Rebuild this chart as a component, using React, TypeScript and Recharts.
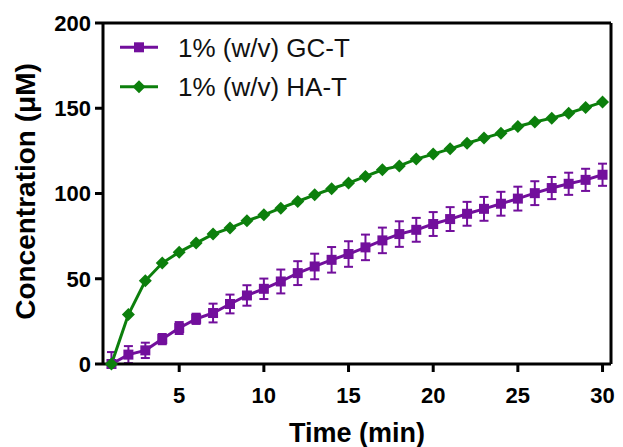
import React from 'react';
import { LineChart, Line, XAxis, YAxis, ErrorBar, ReferenceLine } from 'recharts';

const times = [1, 2, 3, 4, 5, 6, 7, 8, 9, 10, 11, 12, 13, 14, 15, 16, 17, 18, 19, 20, 21, 22, 23, 24, 25, 26, 27, 28, 29, 30];
const gcT = [0, 5.5, 8, 14.6, 21.1, 26.5, 29.9, 35.2, 40.2, 44.1, 48.4, 53.3, 57.2, 61.1, 64.5, 68.4, 72.5, 76.2, 78.7, 82.1, 85, 88.1, 91, 94, 97, 100.2, 103.2, 105.7, 108, 111];
const gcErr = [7, 5, 4.5, 3, 3.5, 3, 5.5, 5.5, 6, 6, 7, 7, 7.5, 7.5, 7.5, 7.5, 7.5, 7.5, 7, 7, 7, 7, 7, 7, 7, 7, 6.5, 6.5, 6.5, 6.5];
const haT = [0, 29, 48.8, 59.2, 65.6, 70.9, 76.2, 79.7, 84, 87.5, 91.4, 95.3, 99.2, 102.8, 106.1, 110, 113.9, 116.2, 120.2, 123.1, 126.2, 129.5, 132.5, 135.4, 139.3, 141.9, 144.2, 147.1, 150.4, 153.6];

const xTicks = [5, 10, 15, 20, 25, 30];
const yTicks = [0, 50, 100, 150, 200];
const seriesNames = ['1% (w/v) GC-T', '1% (w/v) HA-T'];
const xTitle = 'Time (min)';
const yTitle = 'Concentration (\u03bcM)';

const PURPLE = '#720f9c';
const GREEN = '#0c7f0c';
const FONT = "'Liberation Sans', Arial, sans-serif";

// error bars are hidden below the x axis in the original, so the lower arm stops at 0
const data = times.map((t, i) => ({
  t,
  gc: gcT[i],
  gcErr: [Math.min(gcErr[i], gcT[i]), gcErr[i]],
  ha: haT[i],
}));

const SquareDot = (props: any) => {
  const { cx, cy } = props;
  if (cx == null || cy == null) return null;
  return <rect key={`s-${cx}`} x={cx - 5} y={cy - 5} width={10} height={10} fill={PURPLE} />;
};

const DiamondDot = (props: any) => {
  const { cx, cy } = props;
  if (cx == null || cy == null) return null;
  return (
    <polygon
      key={`d-${cx}`}
      points={`${cx},${cy - 6.5} ${cx + 6.5},${cy} ${cx},${cy + 6.5} ${cx - 6.5},${cy}`}
      fill={GREEN}
    />
  );
};

const LegendOverlay = () => (
  <svg width={280} height={85} style={{ position: 'absolute', left: 118, top: 25, display: 'block', pointerEvents: 'none' }}>
    <line x1={2} x2={40} y1={22.3} y2={22.3} stroke={PURPLE} strokeWidth={3} />
    <rect x={16} y={17.3} width={10} height={10} fill={PURPLE} />
    <text x={60} y={31.7} fontFamily={FONT} fontSize={26} fill="#111">{seriesNames[0]}</text>
    <line x1={2} x2={40} y1={61.7} y2={61.7} stroke={GREEN} strokeWidth={3} />
    <polygon points={`21,55.2 27.5,61.7 21,68.2 14.5,61.7`} fill={GREEN} />
    <text x={60} y={70.7} fontFamily={FONT} fontSize={26} fill="#111">{seriesNames[1]}</text>
  </svg>
);

export default function App() {
  return (
    <div style={{ position: 'absolute', left: 0, top: 0, width: 623, height: 447, background: '#fff' }}>
      <LineChart width={623} height={447} data={data} margin={{ top: 23, right: 12, left: 0, bottom: 0 }}>
        <XAxis
          dataKey="t"
          type="number"
          domain={[0.5, 30.5]}
          allowDataOverflow
          ticks={xTicks}
          height={83}
          axisLine={{ stroke: '#000', strokeWidth: 3 }}
          tickLine={{ stroke: '#000', strokeWidth: 3 }}
          tickSize={8}
          tickMargin={15}
          tick={{ fill: '#000', fontSize: 22, fontWeight: 'bold', fontFamily: FONT }}
          label={(p: any) => {
            const vb = p.viewBox || { x: 103, y: 364, width: 508, height: 83 };
            return (
              <text x={vb.x + vb.width / 2} y={442} textAnchor="middle" fontFamily={FONT} fontSize={27} fontWeight="bold" fill="#000">
                {xTitle}
              </text>
            );
          }}
        />
        <YAxis
          type="number"
          domain={[0, 200]}
          ticks={yTicks}
          width={103}
          axisLine={{ stroke: '#000', strokeWidth: 3 }}
          tickLine={{ stroke: '#000', strokeWidth: 3 }}
          tickSize={8}
          tickMargin={4}
          tick={{ fill: '#000', fontSize: 22, fontWeight: 'bold', fontFamily: FONT }}
          label={(p: any) => {
            const vb = p.viewBox || { x: 0, y: 23, width: 103, height: 341 };
            const cy = vb.y + vb.height / 2 - 2;
            return (
              <text x={25} y={cy} transform={`rotate(-90, 25, ${cy})`} textAnchor="middle" dominantBaseline="central" fontFamily={FONT} fontSize={28} fontWeight="bold" fill="#000">
                {yTitle}
              </text>
            );
          }}
        />
        <ReferenceLine y={200} stroke="#000" strokeWidth={3} />
        <ReferenceLine x={30.5} stroke="#000" strokeWidth={3} />
        <Line
          dataKey="gc"
          name={seriesNames[0]}
          stroke={PURPLE}
          strokeWidth={3}
          dot={SquareDot}
          activeDot={false}
          isAnimationActive={false}
        >
          <ErrorBar dataKey="gcErr" width={4.5} stroke={PURPLE} strokeWidth={2} direction="y" />
        </Line>
        <Line
          dataKey="ha"
          name={seriesNames[1]}
          stroke={GREEN}
          strokeWidth={3}
          dot={DiamondDot}
          activeDot={false}
          isAnimationActive={false}
        />
      </LineChart>
      <LegendOverlay />
    </div>
  );
}
